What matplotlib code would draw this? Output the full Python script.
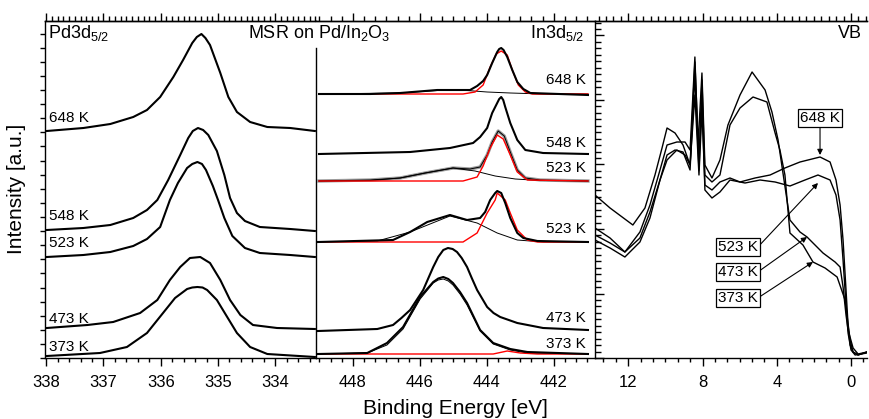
import matplotlib
matplotlib.use("Agg")
import matplotlib.pyplot as plt
from matplotlib.ticker import MultipleLocator, NullFormatter

plt.rcParams['font.family'] = ['Liberation Sans', 'DejaVu Sans']
plt.rcParams['mathtext.default'] = 'regular'

# ---- Pd3d5/2 spektren (BE in eV, intensitaet in a.u.)
pd_648_x = [337.99, 337.35, 336.88, 336.48, 336.24, 336.01, 335.78, 335.61, 335.45, 335.37, 335.29, 335.22, 335.14, 334.96, 334.82, 334.67, 334.44, 334.14, 333.74, 333.31]
pd_648_y = [227, 230, 234, 241, 248, 261, 281, 298, 315, 321, 324, 320, 313, 285, 261, 246, 236, 231, 230, 227]
pd_548_x = [337.99, 337.35, 336.88, 336.48, 336.24, 336.06, 335.87, 335.66, 335.52, 335.44, 335.35, 335.26, 335.17, 335.02, 334.89, 334.79, 334.67, 334.53, 334.27, 333.74, 333.31]
pd_548_y = [128, 130, 133, 140, 148, 158, 178, 203, 220, 227, 230, 228, 223, 207, 183, 160, 145, 137, 131, 129, 127]
pd_523_x = [337.99, 337.35, 336.88, 336.48, 336.24, 336.01, 335.84, 335.70, 335.54, 335.45, 335.36, 335.28, 335.21, 335.09, 335.00, 334.89, 334.75, 334.53, 334.27, 333.74, 333.31]
pd_523_y = [101, 103, 106, 112, 119, 131, 158, 175, 190, 194, 196, 194, 188, 172, 158, 140, 122, 110, 105, 103, 101]
pd_473_x = [337.99, 337.28, 336.83, 336.36, 336.06, 335.84, 335.66, 335.49, 335.31, 335.14, 334.96, 334.79, 334.61, 334.39, 333.97, 333.31]
pd_473_y = [30, 33, 36, 45, 58, 78, 91, 100, 101, 95, 78, 58, 43, 33, 30, 29]
pd_373_x = [337.99, 337.06, 336.59, 336.24, 335.96, 335.75, 335.54, 335.45, 335.36, 335.27, 335.19, 335.02, 334.84, 334.67, 334.44, 334.14, 333.31]
pd_373_y = [2, 5, 11, 25, 45, 60, 69, 70.5, 71, 70.5, 68, 58, 41, 25, 11, 4, 1]
pd_labels = ["648 K", "548 K", "523 K", "473 K", "373 K"]
pd_label_y = [240, 142, 115, 39, 11]

# ---- In3d5/2 spektren + fits
in_648_x = [449.01, 447.48, 446.59, 445.48, 444.50, 444.29, 444.11, 443.99, 443.84, 443.69, 443.63, 443.57, 443.50, 443.39, 443.24, 443.09, 442.91, 442.70, 440.98]
in_648_y = [264, 264, 265, 268, 268, 272, 277, 283, 295, 306, 309, 310, 308, 301, 288, 276, 269, 265, 263]
in_648_red_x = [449.01, 444.71, 444.35, 444.11, 443.90, 443.72, 443.57, 443.39, 443.24, 443.06, 442.85, 442.64, 440.98]
in_648_red_y = [264, 264, 266, 273, 291, 304, 307, 303, 288, 273, 266, 264, 264]
in_648_bg_x = [449.01, 446.59, 445.48, 444.59, 443.99, 443.30, 442.32, 440.98]
in_648_bg_y = [264, 265, 267.5, 267.5, 266, 265, 264, 264]

in_548_x = [449.01, 446.29, 445.10, 444.41, 444.20, 443.99, 443.84, 443.69, 443.63, 443.57, 443.51, 443.45, 443.30, 443.09, 442.85, 442.32, 440.98]
in_548_y = [204, 206, 210, 215, 221, 230, 245, 255, 259, 261, 258, 251, 235, 218, 208, 205, 204]

in_523a_x = [449.01, 447.48, 446.59, 445.84, 445.01, 444.50, 444.20, 443.99, 443.84, 443.66, 443.48, 443.30, 443.09, 442.85, 442.41, 440.98]
in_523a_y = [177, 178, 180, 185, 190, 189, 191, 203, 216, 227, 222, 206, 188, 180, 178, 177]
in_523a_bg_x = [449.01, 447.48, 446.59, 445.84, 445.01, 444.35, 443.75, 443.15, 442.41, 440.98]
in_523a_bg_y = [177, 177.5, 180, 185, 190, 187, 182, 179, 177.5, 177]
in_523a_red_x = [449.01, 444.71, 444.29, 444.11, 443.90, 443.69, 443.51, 443.30, 443.09, 442.79, 440.98]
in_523a_red_y = [177, 177, 181, 192, 210, 223, 219, 203, 186, 178, 177]

in_523b_x = [449.04, 446.80, 446.29, 445.78, 445.10, 444.59, 444.20, 444.05, 443.90, 443.75, 443.69, 443.57, 443.45, 443.30, 443.09, 442.91, 442.49, 440.98]
in_523b_y = [116, 118, 126, 136, 143, 138, 140, 146, 158, 165, 167, 165, 155, 140, 125, 120, 117, 116]
in_523b_bg_x = [449.04, 447.27, 446.29, 445.10, 444.29, 443.69, 443.09, 442.32, 440.98]
in_523b_bg_y = [116, 117, 126, 142, 135, 125, 118, 116, 116]
in_523b_red_x = [449.04, 444.71, 444.29, 443.99, 443.75, 443.69, 443.45, 443.30, 443.09, 442.79, 442.49, 440.98]
in_523b_red_y = [116, 116, 125, 145, 158, 165, 158, 145, 128, 118, 116, 116]

in_473_x = [449.04, 447.27, 446.80, 446.55, 446.29, 445.90, 445.60, 445.45, 445.30, 445.16, 445.02, 444.89, 444.75, 444.59, 444.45, 444.29, 443.99, 443.80, 443.60, 443.09, 442.32, 440.98]
in_473_y = [27, 29, 33, 40, 48, 68, 91, 101, 108, 110, 109, 106, 100, 91, 80, 68, 51, 45, 41, 35, 30, 28]

in_373_x = [449.04, 447.57, 446.98, 446.50, 445.99, 445.60, 445.45, 445.30, 445.15, 445.01, 444.80, 444.59, 444.20, 443.81, 443.30, 442.79, 440.98]
in_373_y = [4, 5, 15, 31, 61, 76, 79.5, 81, 79, 75, 66, 55, 28, 15, 9, 6, 4]
in_373_fit_x = [449.04, 447.57, 446.98, 446.50, 445.99, 445.60, 445.45, 445.30, 445.15, 445.01, 444.80, 444.59, 444.20, 443.81, 443.30, 442.79, 440.98]
in_373_fit_y = [4, 5, 13, 29, 59, 75, 78, 79, 77, 73, 64, 53, 27, 14, 8, 5, 4]
in_373_red_x = [449.04, 443.81, 443.39, 443.00, 442.49, 440.98]
in_373_red_y = [4, 4, 7, 5, 4, 4]

in_labels = ["648 K", "548 K", "523 K", "523 K", "473 K", "373 K"]
in_label_y = [278, 215, 190, 129, 40, 14]

# ---- Valenzband
vb_648_x = [13.79, 12.98, 11.75, 11.10, 10.56, 10.18, 9.91, 9.48, 9.05, 8.67, 8.41, 8.19, 8.03, 7.87, 7.49, 7.06, 6.52, 5.98, 5.17, 4.36, 3.56, 2.75, 1.67, 1.13, 0.81, 0.59, 0.43, 0.27, 0.16, 0.05, -0.11, -0.38, -0.86]
vb_648_y = [163, 150, 133, 150, 183, 210, 230, 225, 213, 193, 263, 183, 248, 173, 168, 176, 180, 176, 180, 183, 190, 196, 201, 196, 178, 153, 118, 68, 33, 13, 6, 3, 6]
vb_523_x = [13.79, 12.98, 12.18, 11.37, 10.83, 10.29, 9.91, 9.48, 9.05, 8.67, 8.41, 8.19, 8.03, 7.87, 7.49, 7.06, 6.52, 5.71, 4.90, 4.09, 3.29, 2.48, 1.78, 1.13, 0.81, 0.59, 0.43, 0.27, 0.16, 0.00, -0.22, -0.86]
vb_523_y = [123, 115, 106, 120, 146, 178, 203, 208, 206, 188, 283, 188, 263, 168, 160, 166, 178, 175, 178, 176, 172, 178, 183, 178, 163, 138, 98, 53, 25, 8, 3, 5]
vb_473_x = [13.79, 12.98, 12.18, 11.37, 10.83, 10.29, 9.91, 9.38, 8.94, 8.67, 8.41, 8.24, 8.03, 7.87, 7.49, 7.06, 6.63, 5.98, 5.33, 4.63, 4.26, 3.93, 3.61, 3.29, 2.75, 2.37, 1.51, 0.86, 0.59, 0.43, 0.27, 0.16, -0.11, -0.38, -0.86]
vb_473_y = [130, 120, 106, 126, 153, 188, 213, 216, 216, 208, 301, 213, 285, 193, 180, 198, 233, 263, 286, 268, 246, 218, 178, 138, 126, 121, 105, 96, 91, 71, 43, 28, 10, 4, 6]
vb_373_x = [13.79, 12.98, 12.18, 11.37, 10.83, 10.29, 9.91, 9.38, 8.94, 8.67, 8.41, 8.19, 8.03, 7.87, 7.49, 7.06, 6.52, 5.98, 5.28, 4.53, 4.09, 3.83, 3.56, 3.29, 2.59, 2.05, 1.40, 0.75, 0.32, 0.05, -0.11, -0.38, -0.86]
vb_373_y = [118, 110, 101, 116, 140, 178, 198, 208, 203, 193, 296, 198, 278, 183, 176, 183, 233, 250, 261, 256, 225, 208, 183, 125, 113, 96, 90, 81, 58, 18, 6, 3, 6]
vb_labels = ["648 K", "523 K", "473 K", "373 K"]
vb_box_pos = [(1.67, 240), (6.09, 111), (6.09, 86), (6.09, 60)]
vb_arrow_tip = [(1.67, 203), (1.78, 175), (2.37, 121), (2.05, 96)]

W, H = 869, 419
def px(x, y):#pixel -> figure koordinaten
    return x / W, 1 - y / H

fig = plt.figure(figsize=(W / 100, H / 100), dpi=100)
bot, hgt = 1 - 358 / H, 337 / H
ax1 = fig.add_axes([45 / W, bot, 271 / W, hgt])
ax2 = fig.add_axes([316 / W, bot, 279 / W, hgt])
ax3 = fig.add_axes([595 / W, bot, 272 / W, hgt])

for ax in (ax1, ax2, ax3):
    ax.set_ylim(0, 337)
    ax.spines['right'].set_visible(False)
    for s in ax.spines.values():
        s.set_linewidth(1.0)
    ax.tick_params(axis='x', which='both', direction='out', top=False, labelsize=12, width=1.0)
    ax.tick_params(axis='x', which='major', length=6, pad=6)
    ax.tick_params(axis='x', which='minor', length=3)

def top_ruler(ax, major, minor):
    sec = ax.secondary_xaxis('top')
    sec.xaxis.set_major_locator(MultipleLocator(major))
    sec.xaxis.set_minor_locator(MultipleLocator(minor))
    sec.xaxis.set_major_formatter(NullFormatter())
    sec.tick_params(which='major', direction='out', length=6, width=1.0)
    sec.tick_params(which='minor', direction='out', length=3.5, width=1.0)
    sec.spines['top'].set_linewidth(1.0)

# links: Pd3d
ax1.set_xlim(338.02, 333.29)
ax1.xaxis.set_major_locator(MultipleLocator(1))
ax1.xaxis.set_minor_locator(MultipleLocator(0.2))
ax1.yaxis.set_major_locator(MultipleLocator(14.1))
ax1.yaxis.set_major_formatter(NullFormatter())
ax1.tick_params(axis='y', direction='out', length=3.6, width=1.0)
top_ruler(ax1, 1, 0.1)
for xs, ys in [(pd_648_x, pd_648_y), (pd_548_x, pd_548_y), (pd_523_x, pd_523_y),
               (pd_473_x, pd_473_y), (pd_373_x, pd_373_y)]:
    ax1.plot(xs, ys, color='black', lw=1.5)
for lab, ly in zip(pd_labels, pd_label_y):
    ax1.text(337.95, ly, lab, fontsize=11, ha='left', va='center')

# mitte: In3d
ax2.set_xlim(449.10, 440.77)
ax2.xaxis.set_major_locator(MultipleLocator(2))
ax2.xaxis.set_minor_locator(MultipleLocator(2 / 6))
ax2.tick_params(axis='y', left=False, labelleft=False)
ax2.spines['left'].set_bounds(0, 310)
top_ruler(ax2, 2, 2 / 6)
# fits erst, dann daten drueber
ax2.plot(in_523a_x, in_523a_y, color='#9a9a9a', lw=2.4)
for xs, ys in [(in_648_bg_x, in_648_bg_y), (in_523a_bg_x, in_523a_bg_y), (in_523b_bg_x, in_523b_bg_y),
               (in_523a_x, in_523a_y), (in_373_fit_x, in_373_fit_y)]:
    ax2.plot(xs, ys, color='black', lw=0.7)
for xs, ys in [(in_648_red_x, in_648_red_y), (in_523a_red_x, in_523a_red_y),
               (in_523b_red_x, in_523b_red_y), (in_373_red_x, in_373_red_y)]:
    ax2.plot(xs, ys, color='red', lw=1.0)
for xs, ys in [(in_648_x, in_648_y), (in_548_x, in_548_y), (in_523b_x, in_523b_y),
               (in_473_x, in_473_y), (in_373_x, in_373_y)]:
    ax2.plot(xs, ys, color='black', lw=1.5)
for lab, ly in zip(in_labels, in_label_y):
    ax2.text(441.05, ly, lab, fontsize=11, ha='right', va='center')

# rechts: VB
ax3.set_xlim(13.79, -0.86)
ax3.xaxis.set_major_locator(MultipleLocator(4))
ax3.xaxis.set_minor_locator(MultipleLocator(4 / 6))
ax3.yaxis.set_major_locator(MultipleLocator(64.5))
ax3.yaxis.set_minor_locator(MultipleLocator(6.45))
ax3.yaxis.set_major_formatter(NullFormatter())
ax3.tick_params(axis='y', which='major', direction='in', length=6.5, width=1.0)
ax3.tick_params(axis='y', which='minor', direction='in', length=4, width=1.0)
top_ruler(ax3, 4, 0.4)
for xs, ys in [(vb_648_x, vb_648_y), (vb_523_x, vb_523_y), (vb_473_x, vb_473_y), (vb_373_x, vb_373_y)]:
    ax3.plot(xs, ys, color='black', lw=1.0)
for i, lab in enumerate(vb_labels):
    rp = (0.5, 0) if i == 0 else (1, 0.5)
    ax3.annotate(lab, xy=vb_arrow_tip[i], xytext=vb_box_pos[i], fontsize=11,
                 ha='center', va='center',
                 bbox=dict(boxstyle='square,pad=0.15', fc='white', ec='black', lw=0.9),
                 arrowprops=dict(arrowstyle='-|>', color='black', lw=0.8, mutation_scale=8,
                                 shrinkA=0, shrinkB=0, relpos=rp))

# titel / achsenbeschriftung
fig.text(*px(48, 33), 'Pd3d$_{5/2}$', fontsize=13, ha='left', va='center')
fig.text(*px(319, 33), 'MSR on Pd/In$_2$O$_3$', fontsize=13, ha='center', va='center')
fig.text(*px(584, 33), 'In3d$_{5/2}$', fontsize=13, ha='right', va='center')
fig.text(*px(862, 33), 'VB', fontsize=13, ha='right', va='center')
fig.text(*px(17, 189), 'Intensity [a.u.]', fontsize=15, rotation=90, ha='center', va='center')
fig.text(*px(455, 408), 'Binding Energy [eV]', fontsize=15, ha='center', va='center')

fig.savefig('out.png', dpi=100)
